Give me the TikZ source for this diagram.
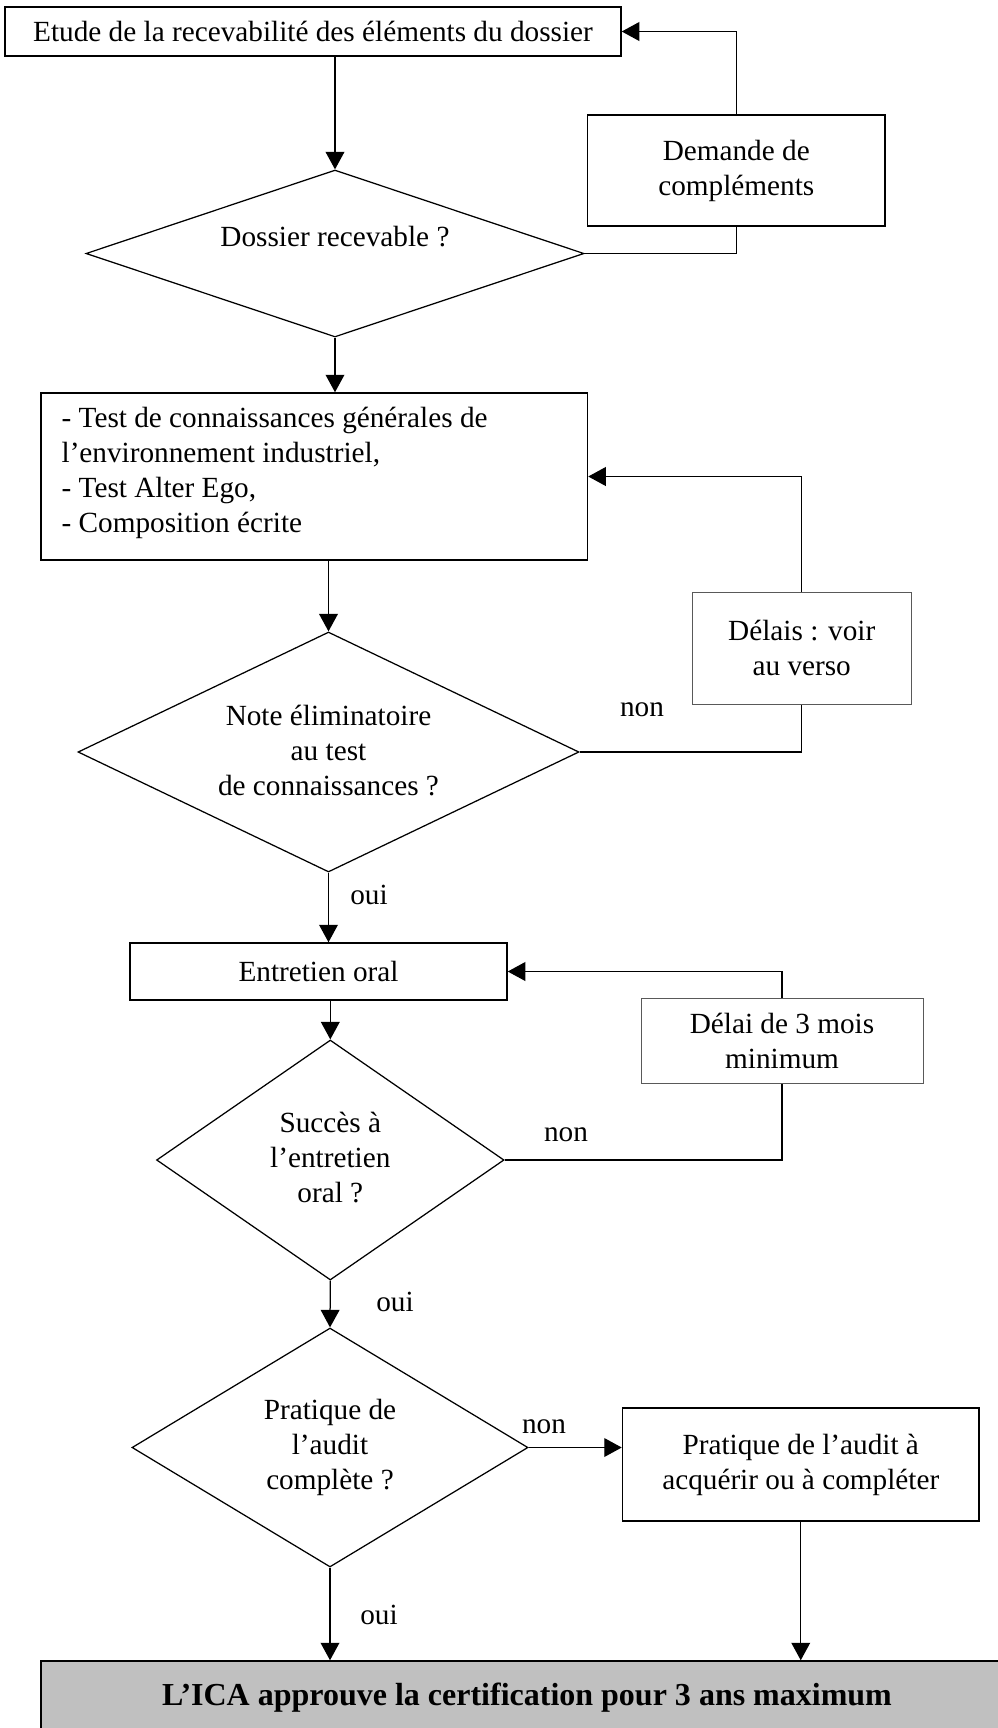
\documentclass[tikz,border=0pt]{standalone}
\usepackage{fontspec}
\setmainfont{Liberation Serif}
\usepackage{tikz}
\usetikzlibrary{shapes.geometric}
\usetikzlibrary{arrows.meta}
\definecolor{boxgrey}{RGB}{192,192,192}
\tikzset{box/.style={rectangle,draw=black,line width=0.6pt,inner sep=2pt,align=center}}
\tikzset{softbox/.style={rectangle,draw=black!65,line width=0.4pt,inner sep=2pt,align=center}}
\tikzset{dec/.style={diamond,draw=black,line width=0.5pt,inner sep=0pt}}
\tikzset{arr/.style={line width=0.5pt,-{Triangle[length=7pt,width=7.5pt]}}}
\tikzset{lbl/.style={inner sep=0pt,align=center}}

\begin{document}
\begin{tikzpicture}[x=0.4pt,y=-0.4pt,font=\fontsize{11.7pt}{14pt}\selectfont,line width=0.5pt]
\useasboundingbox (0,0) rectangle (998,1728);
\clip (0,0) rectangle (998,1728);
\node[box,minimum width=246.4pt,minimum height=19.6pt] (etude) at (313,31.5) {Etude de la recevabilité des éléments du dossier};
\node[dec,minimum width=199.2pt,minimum height=66.8pt] (recev) at (335,253.5) {};
\node[lbl] (recevT) at (335,237) {Dossier recevable ?};
\node[box,minimum width=119pt,minimum height=44.4pt] (demande) at (736.25,170.5) {Demande de\\compléments};
\node[box,minimum width=218.6pt,minimum height=66.8pt] (tests) at (314.25,476.5) {};
\node[lbl,align=left,anchor=west] (testsT) at (61,473)
  {- Test de connaissances générales de\\l’environnement industriel,\\- Test Alter Ego,\\- Composition écrite};
\node[dec,minimum width=200.4pt,minimum height=96pt] (elim) at (328.5,752) {};
\node[lbl] (elimT) at (328.5,750.5) {Note éliminatoire\\au test\\de connaissances ?};
\node[softbox,minimum width=87.8pt,minimum height=44.8pt] (delais) at (801.75,648) {Délais : voir\\au verso};
\node[box,minimum width=150.8pt,minimum height=22.8pt] (entretien) at (318.5,971.5) {Entretien oral};
\node[dec,minimum width=139pt,minimum height=96pt] (succes) at (330.3,1160) {};
\node[lbl] (succesT) at (330.3,1157.5) {Succès à\\l’entretien\\oral ?};
\node[softbox,minimum width=112.8pt,minimum height=34pt] (delai3) at (782,1040.5) {Délai de 3 mois\\minimum};
\node[dec,minimum width=158.4pt,minimum height=95.6pt] (pratique) at (330,1447.5) {};
\node[lbl] (pratiqueT) at (330,1447) {Pratique de\\l’audit\\complète ?};
\node[box,minimum width=142.6pt,minimum height=45.2pt] (acq) at (800.75,1464.5) {Pratique de l’audit à\\acquérir ou à compléter};
\node[box,fill=boxgrey,minimum width=388.8pt,minimum height=29.6pt,font=\fontsize{12.8pt}{15pt}\selectfont\bfseries] (ica) at (527,1698) {L’ICA approuve la certification pour 3 ans maximum};
\foreach \n/\x/\y/\t in {non1/642/710/non,oui1/369/895/oui,non2/566/1135/non,oui2/395/1302/oui,non3/544/1427/non,oui3/379/1615/oui} {
	\node[lbl] (\n) at (\x,\y) {\t};
}
% liaisons
\draw[arr] (etude.south -| recev.north) -- (recev.north);
\draw (recev.east) -| (demande.south);
\draw[arr] (demande.north) |- (etude.east);
\draw[arr] (recev.south) -- (recev.south |- tests.north);
\draw[arr] (tests.south -| elim.north) -- (elim.north);
\draw (elim.east) -| (delais.south);
\draw[arr] (delais.north) |- (tests.east);
\draw[arr] (elim.south) -- (elim.south |- entretien.north);
\draw[arr] (entretien.south -| succes.north) -- (succes.north);
\draw (succes.east) -| (delai3.south);
\draw[arr] (delai3.north) |- (entretien.east);
\draw[arr] (succes.south) -- (pratique.north);
\draw[arr] (pratique.east) -- (pratique.east -| acq.west);
\draw[arr] (acq.south) -- (acq.south |- ica.north);
\draw[arr] (pratique.south) -- (pratique.south |- ica.north);
\end{tikzpicture}
\end{document}
